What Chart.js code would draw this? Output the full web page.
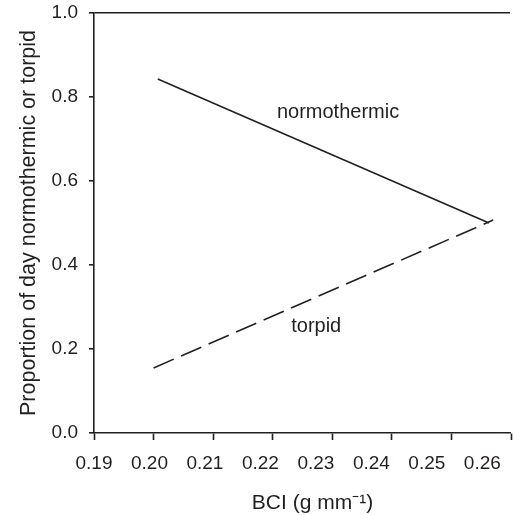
<!DOCTYPE html>
<html>
<head>
<meta charset="utf-8">
<script src="https://cdn.jsdelivr.net/npm/chart.js@4.4.1/dist/chart.umd.min.js"></script>
<style>
  html, body { margin: 0; padding: 0; background: #fff; }
  #wrap { width: 513px; height: 515px; }
</style>
</head>
<body>
<div id="wrap"><canvas id="bciChart" width="513" height="515"></canvas></div>
<script>
// ---- data ----
const normoX = [0.2007, 0.2563];
const normoY = [0.843, 0.500];
const torpidX = [0.2000, 0.2570];
const torpidY = [0.155, 0.507];

const xTicks = [0.19, 0.20, 0.21, 0.22, 0.23, 0.24, 0.25, 0.26];
const yTicks = [0.0, 0.2, 0.4, 0.6, 0.8, 1.0];

const INK = '#231f20';
const FONT = "'Liberation Sans', Arial, Helvetica, sans-serif";

// in-plot text labels (data coordinates)
const curveLabels = [
    { text: 'normothermic', x: 0.2207, y: 0.750 },
    { text: 'torpid', x: 0.2231, y: 0.241 }
];

function toPoints(xs, ys) {
    return xs.map(function(x, i) { return { x: x, y: ys[i] }; });
}

const curveLabelPlugin = {
    id: 'curveLabels',
    afterDatasetsDraw: function(chart) {
        const ctx = chart.ctx;
        const xs = chart.scales.x;
        const ys = chart.scales.y;
        ctx.save();
        ctx.fillStyle = INK;
        ctx.font = '20px ' + FONT;
        ctx.textAlign = 'left';
        ctx.textBaseline = 'alphabetic';
        curveLabels.forEach(function(l) {
            ctx.fillText(l.text, xs.getPixelForValue(l.x), ys.getPixelForValue(l.y));
        });
        ctx.restore();
    }
};

document.addEventListener('DOMContentLoaded', function() {
    const ctx = document.getElementById('bciChart');

    new Chart(ctx, {
        type: 'line',
        data: {
            datasets: [{
                label: 'normothermic',
                data: toPoints(normoX, normoY),
                borderColor: INK,
                borderWidth: 1.6,
                pointRadius: 0,
                fill: false
            }, {
                label: 'torpid',
                data: toPoints(torpidX, torpidY),
                borderColor: INK,
                borderWidth: 1.6,
                borderDash: [22, 8],
                pointRadius: 0,
                fill: false
            }]
        },
        options: {
            responsive: false,
            animation: false,
            devicePixelRatio: 1,
            layout: { padding: { left: 0, right: 0, top: 13, bottom: 0 } },
            plugins: {
                legend: { display: false },
                tooltip: { enabled: false }
            },
            scales: {
                // axis line + tick marks (the original's marks sit on a slightly wider spacing than its labels)
                x: {
                    type: 'linear',
                    position: 'bottom',
                    weight: 0,
                    min: 0.19,
                    max: 0.19 + 419 / 6000,
                    afterBuildTicks: function(axis) {
                        axis.ticks = xTicks.map(function(v) { return { value: v }; });
                    },
                    afterFit: function(scale) {
                        scale.height = 7;
                    },
                    grid: {
                        drawOnChartArea: false,
                        drawTicks: true,
                        tickLength: 7,
                        tickColor: INK,
                        tickWidth: 1.6,
                        color: INK
                    },
                    border: { display: true, color: INK, width: 1.6 },
                    ticks: { display: false }
                },
                // tick labels + axis title
                x2: {
                    type: 'linear',
                    position: 'bottom',
                    weight: 1,
                    min: 0.19,
                    max: 0.265,
                    afterBuildTicks: function(axis) {
                        axis.ticks = xTicks.map(function(v) { return { value: v }; });
                    },
                    afterFit: function(scale) {
                        scale.height = 75;
                    },
                    grid: { display: false, drawTicks: false },
                    border: { display: false },
                    ticks: {
                        autoSkip: false,
                        maxRotation: 0,
                        padding: 12,
                        color: INK,
                        font: { family: FONT, size: 19 },
                        callback: function(value) {
                            return value.toFixed(2);
                        }
                    },
                    title: {
                        display: true,
                        text: '\u2003BCI (g mm\u207B\u00B9)',
                        color: INK,
                        font: { family: FONT, size: 21, lineHeight: 1.1 },
                        padding: { top: 15, bottom: 0 }
                    }
                },
                y: {
                    type: 'linear',
                    min: 0,
                    max: 1,
                    afterBuildTicks: function(axis) {
                        axis.ticks = yTicks.map(function(v) { return { value: v }; });
                    },
                    afterFit: function(scale) {
                        scale.width = 94;
                        // let the top frame sit close to the canvas edge like the original
                        scale.paddingTop = 0;
                        scale.paddingBottom = 0;
                    },
                    grid: {
                        drawOnChartArea: true,
                        drawTicks: true,
                        tickLength: 5,
                        tickColor: INK,
                        tickWidth: 1.6,
                        lineWidth: 1.6,
                        // only the top frame line at 1.0 is drawn
                        color: function(c) {
                            return (c.tick && Math.abs(c.tick.value - 1) < 1e-9) ? INK : 'rgba(0,0,0,0)';
                        }
                    },
                    border: { display: true, color: INK, width: 1.6 },
                    ticks: {
                        padding: 11,
                        color: INK,
                        font: { family: FONT, size: 19 },
                        callback: function(value) {
                            return value.toFixed(1);
                        }
                    },
                    title: {
                        display: true,
                        text: 'Proportion of day normothermic or torpid',
                        color: INK,
                        font: { family: FONT, size: 21.5 },
                        padding: { top: 16, bottom: 0 }
                    }
                }
            }
        },
        plugins: [curveLabelPlugin]
    });
});
</script>
</body>
</html>
